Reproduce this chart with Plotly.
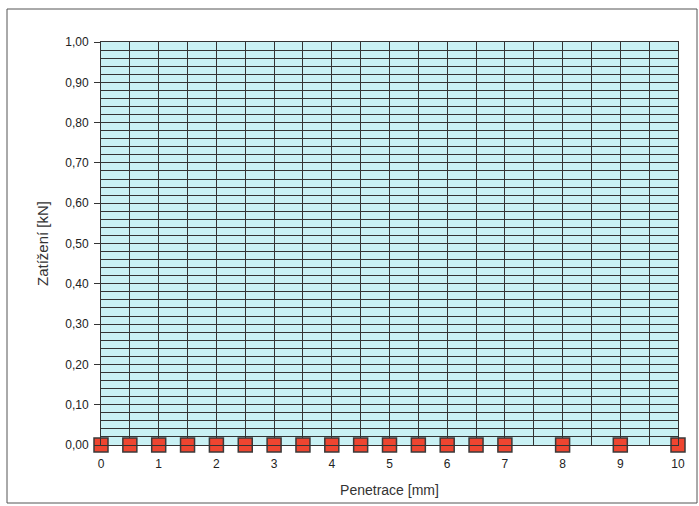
import plotly.graph_objects as go

penetrace = [0, 0.5, 1, 1.5, 2, 2.5, 3, 3.5, 4, 4.5, 5, 5.5, 6, 6.5, 7, 8, 9, 10]
zatizeni = [0.0] * len(penetrace)
y_ticks = [0.0, 0.1, 0.2, 0.3, 0.4, 0.5, 0.6, 0.7, 0.8, 0.9, 1.0]
y_labels = ["0,00", "0,10", "0,20", "0,30", "0,40", "0,50", "0,60", "0,70", "0,80", "0,90", "1,00"]
x_ticks = list(range(0, 11))

W, H = 699, 506
L, R, T, B = 101, 21, 42, 61
pw, ph = W - L - R, H - T - B

fig = go.Figure()
fig.add_trace(go.Scatter(
    x=penetrace, y=zatizeni, mode="markers",
    marker=dict(symbol="square", size=14, color="#ee4530",
                line=dict(color="#3a3a3a", width=1.5)),
    cliponaxis=False, showlegend=False))

grid = "#333333"
fig.update_layout(
    width=W, height=H,
    margin=dict(l=L, r=R, t=T, b=B),
    paper_bgcolor="white", plot_bgcolor="#c9f1f4",
    font=dict(family="Liberation Sans, Arial, sans-serif", size=12, color="#222"),
    xaxis=dict(range=[0, 10], tickvals=x_ticks, ticktext=[str(v) for v in x_ticks],
               showgrid=True, gridcolor=grid, gridwidth=1,
               minor=dict(dtick=0.5, showgrid=True, gridcolor=grid, gridwidth=1),
               zeroline=False, showline=True, linecolor=grid, linewidth=1, mirror=True,
               ticks="", ticklabelstandoff=8,
               title=dict(text="Penetrace [mm]", font=dict(size=14, color="#333"), standoff=14)),
    yaxis=dict(range=[0, 1], tickvals=y_ticks, ticktext=y_labels,
               showgrid=True, gridcolor=grid, gridwidth=1,
               minor=dict(dtick=0.02, showgrid=True, gridcolor=grid, gridwidth=1),
               zeroline=False, showline=True, linecolor=grid, linewidth=1, mirror=True,
               ticks="outside", ticklen=6, tickcolor=grid, ticklabelstandoff=3,
               title=dict(text="Zatížení [kN]", font=dict(size=15, color="#333"), standoff=12)),
)

def px(x): return (x - L) / pw
def py(y): return (H - B - y) / ph

fig.add_shape(type="rect", xref="paper", yref="paper",
              x0=px(7), x1=px(697), y0=py(9), y1=py(503),
              line=dict(color="#555", width=1), layer="below")

fig.write_html("out.html", config={"displayModeBar": False},
               post_script="document.body.style.margin='0';document.body.style.padding='0';")
